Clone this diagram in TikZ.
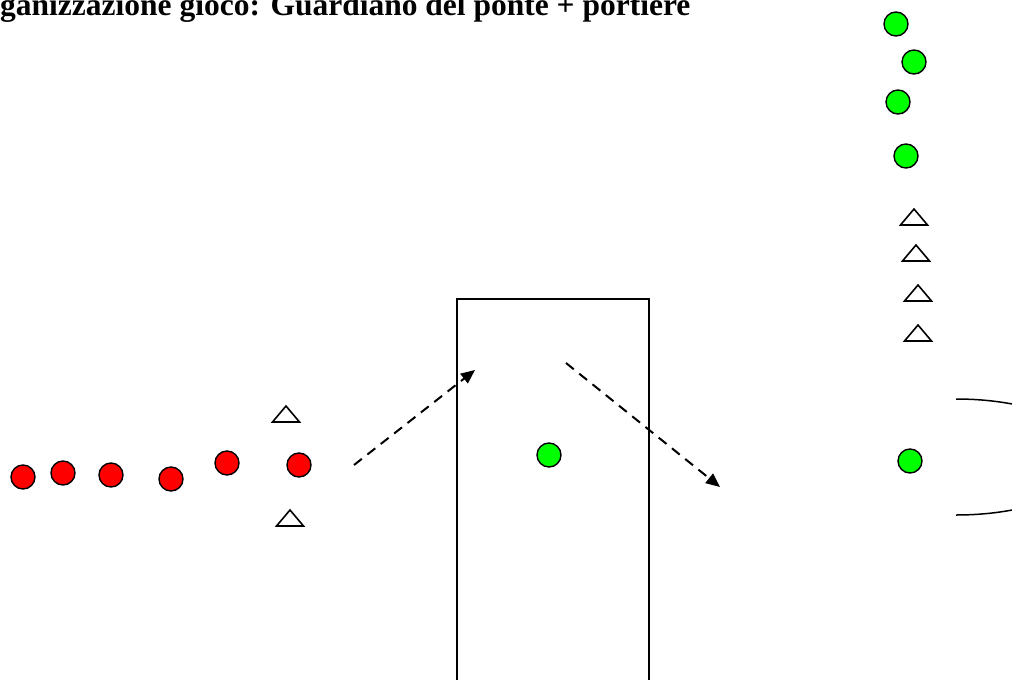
\documentclass[tikz,border=0pt]{standalone}
\usepackage{fontspec}
\setmainfont{Liberation Serif}
\usetikzlibrary{arrows.meta}

\tikzset{
  cone/.pic={
    \draw[line width=1.6pt,line join=miter] (-13.5,8) -- (0,-8) -- (13.5,8) -- cycle;
  }
}

\begin{document}
\begin{tikzpicture}[
  x=1pt,y=-1pt,
  >={Triangle[length=14pt,width=12pt]},
  redplayer/.style={circle,draw,line width=1.4pt,fill=red,minimum size=24pt,inner sep=0pt},
  greenplayer/.style={circle,draw,line width=1.4pt,fill=green,minimum size=24pt,inner sep=0pt},
  pass/.style={->,line width=2pt,dash pattern=on 10pt off 7pt}
]
\useasboundingbox (0,0) rectangle (1012,680);
\clip (0,0) rectangle (1012,680);

% titolo
\node[anchor=base west,inner sep=0pt,font=\fontsize{31.5}{36}\selectfont\bfseries]
  (titolo) at (0,15) {ganizzazione gioco: Guardiano del ponte + portiere};

%--------------------
% fila rossa
%--------------------
\node[redplayer] (r1) at (23,477) {};
\node[redplayer] (r2) at (63,473) {};
\node[redplayer] (r3) at (111,475) {};
\node[redplayer] (r4) at (171,479) {};
\node[redplayer] (r5) at (227,463) {};
\node[redplayer] (r6) at (299,465) {};

% porticina
\pic (p1) at (286,414) {cone};
\pic (p2) at (290,518) {cone};

%--------------------
% ponte
%--------------------
\draw[line width=1.5pt] (457,700) -- (457,299) -- (649,299) -- (649,700);
\node[greenplayer] (guardiano) at (549,455) {};

% passaggi
\coordinate (a1) at (354,465);
\coordinate (a2) at (475,370);
\coordinate (b1) at (566,363);
\coordinate (b2) at (720,487);
\draw[pass] (a1) -- (a2);
\draw[pass] (b1) -- (b2);

%--------------------
% fila verde e porta
%--------------------
\node[greenplayer] (g1) at (896,24) {};
\node[greenplayer] (g2) at (914,62) {};
\node[greenplayer] (g3) at (898,102) {};
\node[greenplayer] (g4) at (906,156) {};

\foreach \i/\x/\y in {1/914/217,2/916/253,3/918/293,4/918/333}
  \pic (c\i) at (\x,\y) {cone};

\node[greenplayer] (portiere) at (910,461) {};

% porta
\draw[line width=1.5pt] (956,399) arc[start angle=-90,end angle=90,x radius=138,y radius=58];

\end{tikzpicture}
\end{document}
